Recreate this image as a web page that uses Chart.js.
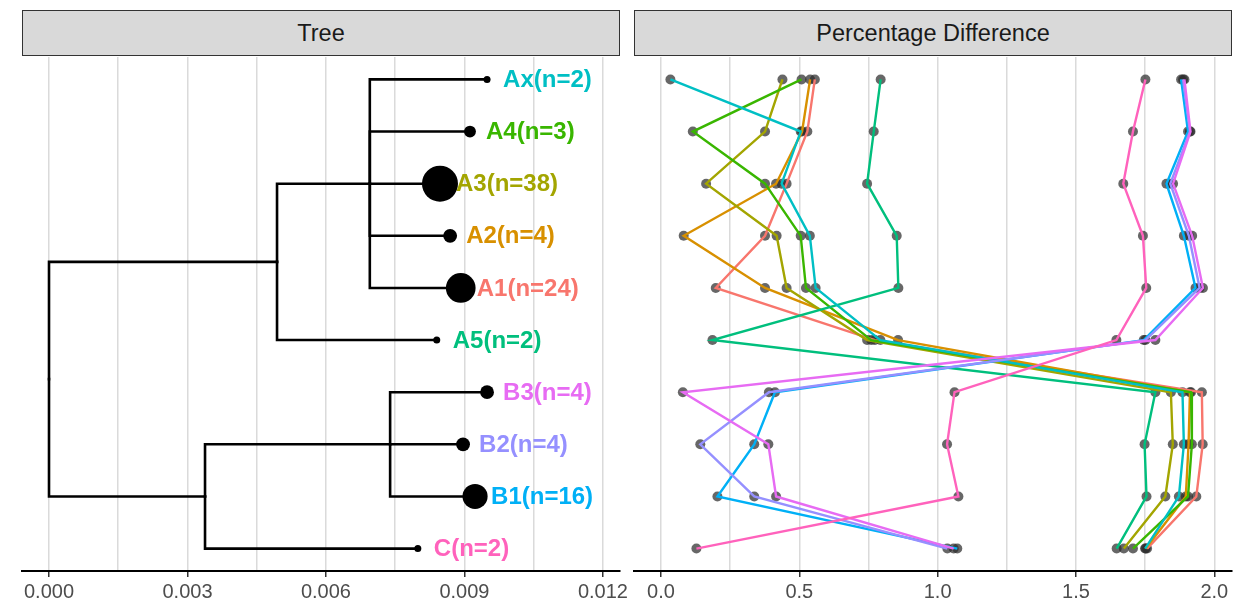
<!DOCTYPE html>
<html>
<head>
<meta charset="utf-8">
<script src="https://cdn.jsdelivr.net/npm/chart.js@4.4.1/dist/chart.umd.min.js"></script>
<style>
body { margin: 0; background: #fff; width: 1238px; height: 609px; overflow: hidden; position: relative; font-family: 'Liberation Sans', Arial, sans-serif; }
canvas { position: absolute; top: 0; }
.strip { position: absolute; top: 10px; height: 46px; width: 598px; box-sizing: border-box; background: #D9D9D9; border: 1px solid #333; color: #1A1A1A; font-size: 23.5px; line-height: 44px; text-align: center; }
</style>
</head>
<body>
<div class="strip" style="left:22px">Tree</div>
<div class="strip" style="left:634px">Percentage Difference</div>
<canvas id="treeChart" width="660" height="609" style="left:0"></canvas>
<canvas id="diffChart" width="611" height="609" style="left:627px"></canvas>
<script>
// TREE DATA (tips listed top to bottom)
const tipNames = ['Ax', 'A4', 'A3', 'A2', 'A1', 'A5', 'B3', 'B2', 'B1', 'C'];
const tipCounts = [2, 3, 38, 4, 24, 2, 4, 4, 16, 2];
const tipDepth = [0.00949, 0.00912, 0.00847, 0.00869, 0.00892, 0.00840, 0.00949, 0.00897, 0.00923, 0.00799];
const tipParent = ['nA1', 'nA1', 'nA1', 'nA1', 'nA1', 'nA', 'nB1', 'nB1', 'nB1', 'nB'];
const nodeNames = ['nA1', 'nA', 'nB1', 'nB', 'root'];
const nodeDepth = [0.00695, 0.00494, 0.00739, 0.00338, 0];
const nodeParent = ['nA', 'root', 'nB', 'root', null];
const treeTicks = [0, 0.003, 0.006, 0.009, 0.012];

// PERCENTAGE DIFFERENCE, one value per tree row (same order as tipNames)
const diffA1 = [0.556, 0.529, 0.454, 0.376, 0.198, 0.773, 1.955, 1.958, 1.935, 1.757];
const diffA2 = [0.539, 0.510, 0.416, 0.082, 0.376, 0.857, 1.912, 1.907, 1.897, 1.752];
const diffA3 = [0.439, 0.376, 0.163, 0.418, 0.454, 0.745, 1.843, 1.850, 1.823, 1.673];
const diffA4 = [0.508, 0.115, 0.376, 0.505, 0.524, 0.760, 1.916, 1.919, 1.905, 1.706];
const diffA5 = [0.794, 0.769, 0.745, 0.852, 0.858, 0.186, 1.787, 1.748, 1.755, 1.647];
const diffAx = [0.034, 0.505, 0.436, 0.538, 0.559, 0.793, 1.885, 1.890, 1.872, 1.750];
const diffB1 = [1.880, 1.905, 1.827, 1.890, 1.932, 1.745, 0.412, 0.337, 0.204, 1.071];
const diffB2 = [1.887, 1.912, 1.841, 1.908, 1.947, 1.751, 0.390, 0.142, 0.337, 1.035];
const diffB3 = [1.892, 1.914, 1.851, 1.920, 1.959, 1.787, 0.079, 0.388, 0.416, 1.058];
const diffC = [1.751, 1.706, 1.671, 1.742, 1.754, 1.646, 1.061, 1.034, 1.075, 0.128];
const diffTicks = [0, 0.5, 1, 1.5, 2];

const groupNames = ['A1', 'A2', 'A3', 'A4', 'A5', 'Ax', 'B1', 'B2', 'B3', 'C'];
const groupDiffs = [diffA1, diffA2, diffA3, diffA4, diffA5, diffAx, diffB1, diffB2, diffB3, diffC];

// ggplot hue palette
const groupColors = {
    A1: '#F8766D', A2: '#D89000', A3: '#A3A500', A4: '#39B600', A5: '#00BF7D',
    Ax: '#00BFC4', B1: '#00B0F6', B2: '#9590FF', B3: '#E76BF3', C: '#FF62BC'
};

const FONT = "'Liberation Sans', Arial, sans-serif";
const rowMin = 0.57, rowMax = 10.43;

// grid at the ticks plus halfway (minor) lines
function withMinor(ticks) {
    const out = [];
    ticks.forEach((t, i) => {
        out.push(t);
        if (i < ticks.length - 1) out.push((t + ticks[i + 1]) / 2);
    });
    return out;
}
const isMajor = (ticks, v) => ticks.some(t => Math.abs(t - v) < 1e-9);

function xScale(ticks, min, max, digits) {
    const grid = withMinor(ticks);
    return {
        type: 'linear', min: min, max: max,
        afterBuildTicks: s => { s.ticks = grid.map(v => ({ value: v })); },
        afterFit: s => { s.height = 38; },
        ticks: {
            autoSkip: false, maxRotation: 0, padding: 3,
            color: '#4D4D4D', font: { family: FONT, size: 20 },
            callback: v => isMajor(ticks, v) ? v.toFixed(digits) : ''
        },
        grid: {
            color: '#DADADA', lineWidth: 1.5, tickLength: 6, tickWidth: 1.5,
            tickColor: c => (c.tick && isMajor(ticks, c.tick.value)) ? '#333' : 'rgba(0,0,0,0)'
        },
        border: { display: true, color: '#000', width: 2 }
    };
}
const yScale = { type: 'linear', min: rowMin, max: rowMax, reverse: true, display: false };

// TREE LAYOUT
const pos = {};
tipNames.forEach((n, i) => { pos[n] = { x: tipDepth[i], y: i + 1 }; });
nodeNames.forEach((n, i) => {
    const kids = tipNames.filter((t, j) => tipParent[j] === n)
        .concat(nodeNames.filter((m, j) => nodeParent[j] === n));
    const ys = kids.map(k => pos[k].y);
    pos[n] = { x: nodeDepth[i], y: (Math.min(...ys) + Math.max(...ys)) / 2 };
});
const edges = tipNames.map((n, i) => [tipParent[i], n]);
nodeNames.forEach((n, i) => { if (nodeParent[i]) edges.push([nodeParent[i], n]); });

const edgeSets = edges.map(([p, c]) => ({
    data: [{ x: pos[p].x, y: pos[p].y }, { x: pos[p].x, y: pos[c].y }, { x: pos[c].x, y: pos[c].y }],
    showLine: true, borderColor: '#000', borderWidth: 2.6, pointRadius: 0,
    borderCapStyle: 'square', borderJoinStyle: 'miter', order: 2
}));

const nMin = Math.min(...tipCounts), nMax = Math.max(...tipCounts);
const sizeOf = n => 3.5 + 14.5 * Math.sqrt((n - nMin) / (nMax - nMin));

const tipLabelPlugin = {
    id: 'tipLabels',
    afterDatasetsDraw(chart) {
        const { ctx, scales: { x, y } } = chart;
        ctx.save();
        ctx.font = 'bold 24px ' + FONT;
        ctx.textBaseline = 'middle';
        tipNames.forEach((n, i) => {
            ctx.fillStyle = groupColors[n];
            ctx.fillText(n + '(n=' + tipCounts[i] + ')', x.getPixelForValue(tipDepth[i]) + 16, y.getPixelForValue(i + 1) + 1);
        });
        ctx.restore();
    }
};

new Chart(document.getElementById('treeChart'), {
    type: 'scatter',
    data: {
        datasets: edgeSets.concat([{
            data: tipNames.map(n => ({ x: pos[n].x, y: pos[n].y })),
            pointRadius: tipCounts.map(sizeOf),
            backgroundColor: '#000', borderWidth: 0, order: 1
        }])
    },
    options: {
        responsive: false, animation: false,
        layout: { padding: { left: 22, right: 40, top: 57, bottom: 0 } },
        plugins: { legend: { display: false }, tooltip: { enabled: false } },
        scales: { x: xScale(treeTicks, -0.000585, 0.01237, 3), y: yScale }
    },
    plugins: [tipLabelPlugin]
});

// PERCENTAGE DIFFERENCE CHART
const pointSet = {
    data: groupDiffs.flatMap(vals => vals.map((v, i) => ({ x: v, y: i + 1 }))),
    pointRadius: 5, backgroundColor: 'rgba(45,45,45,0.72)', borderWidth: 0, order: 2
};
const lineSets = groupNames.map((g, k) => ({
    label: g,
    data: groupDiffs[k].map((v, i) => ({ x: v, y: i + 1 })),
    showLine: true, borderColor: groupColors[g], borderWidth: 2.4, pointRadius: 0, order: 1
})).reverse();

new Chart(document.getElementById('diffChart'), {
    type: 'scatter',
    data: { datasets: [pointSet].concat(lineSets) },
    options: {
        responsive: false, animation: false,
        layout: { padding: { left: 7, right: 6, top: 57, bottom: 0 } },
        plugins: { legend: { display: false }, tooltip: { enabled: false } },
        scales: { x: xScale(diffTicks, -0.0976, 2.064, 1), y: yScale }
    }
});
</script>
</body>
</html>
